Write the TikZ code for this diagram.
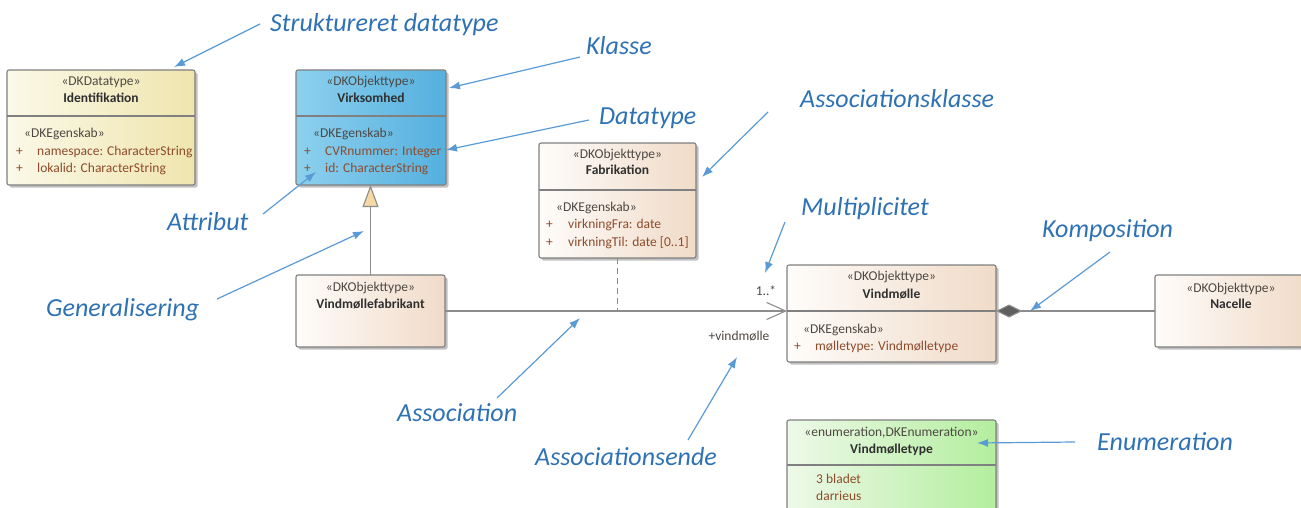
\documentclass[tikz,border=0pt]{standalone}
\usepackage{fontspec}
\setmainfont{Carlito}
\usetikzlibrary{arrows.meta,shadows,calc}

\definecolor{boxline}{HTML}{808080}
\definecolor{connline}{HTML}{8C8C8C}
\definecolor{stereo}{HTML}{4E4843}
\definecolor{namecol}{HTML}{2F2F2F}
\definecolor{attrcol}{HTML}{8E4B2C}
\definecolor{noteblue}{HTML}{2F72B4}
\definecolor{arrowblue}{HTML}{5B9BD5}
\definecolor{yelL}{HTML}{FBF9E8}
\definecolor{yelR}{HTML}{EFE5AE}
\definecolor{bluL}{HTML}{8DD0EE}
\definecolor{bluR}{HTML}{54B0DE}
\definecolor{tanL}{HTML}{FEFCFA}
\definecolor{tanR}{HTML}{F0DBC8}
\definecolor{grnL}{HTML}{EEF9E9}
\definecolor{grnR}{HTML}{B3EE9E}
\definecolor{genfill}{HTML}{F6D8A5}
\definecolor{diamondgray}{HTML}{5F5F5F}

\begin{document}
\begin{tikzpicture}[x=1pt,y=-1pt,
  cls/.style={draw=boxline, line width=1.1pt, rounded corners=2pt,
    anchor=north west, inner sep=0pt, outer sep=0pt,
    drop shadow={shadow xshift=2.5pt,shadow yshift=-2.5pt,opacity=0.35,fill=black!70}},
  yelbox/.style={cls, left color=yelL, right color=yelR},
  blubox/.style={cls, left color=bluL, right color=bluR},
  tanbox/.style={cls, left color=tanL, right color=tanR},
  grnbox/.style={cls, left color=grnL, right color=grnR},
  divider/.style={draw=boxline, line width=1.1pt},
  txt/.style={inner sep=0pt, font=\fontsize{13.5}{16}\selectfont},
  stereotxt/.style={txt, anchor=base, text=stereo},
  nametxt/.style={txt, anchor=base, text=namecol, font=\fontsize{13.5}{16}\selectfont\bfseries},
  attrtxt/.style={txt, anchor=base west, text=attrcol},
  plus/.style={txt, anchor=base west, text=attrcol},
  roletxt/.style={txt, anchor=base, text=stereo},
  conn/.style={draw=connline, line width=1.1pt},
  note/.style={inner sep=0pt, anchor=base west, text=noteblue,
    font=\fontsize{26}{30}\selectfont\itshape},
  pointer/.style={draw=arrowblue, line width=1.2pt, -{Latex[length=11pt,width=8pt]}}
]
\useasboundingbox (0,0) rectangle (1301,508);
\clip (0,0) rectangle (1301,508);
\fill[white] (0,0) rectangle (1301,508);

% ---------- class boxes ----------
\node[yelbox, minimum width=188pt, minimum height=115pt] (ident) at (7,70) {};
\node[blubox, minimum width=150pt, minimum height=115pt] (virk) at (296,70) {};
\node[tanbox, minimum width=157pt, minimum height=115pt] (fab) at (539,143) {};
\node[tanbox, minimum width=149pt, minimum height=72pt] (vmf) at (296,275) {};
\node[tanbox, minimum width=209pt, minimum height=97pt] (vm) at (787,265) {};
\node[tanbox, minimum width=152pt, minimum height=72pt] (nac) at (1155,275) {};
\node[grnbox, minimum width=209pt, minimum height=110pt] (vmt) at (787,420) {};

% compartment dividers
\draw[divider] (ident.west |- 0,116) -- (ident.east |- 0,116);
\draw[divider] (virk.west |- 0,116) -- (virk.east |- 0,116);
\draw[divider] (fab.west |- 0,190) -- (fab.east |- 0,190);
\draw[divider] (vm.west |- 0,311) -- (vm.east |- 0,311);
\draw[divider] (vmt.west |- 0,465) -- (vmt.east |- 0,465);

% ---------- box texts ----------
% Identifikation
\node[stereotxt] (identS) at (101,86) {«DKDatatype»};
\node[nametxt] (identN) at (101,103) {Identifikation};
\node[stereotxt, anchor=base west] (identG) at (24,138) {«DKEgenskab»};
\node[plus] (identP1) at (16,155) {+};
\node[attrtxt] (identA1) at (37,155) {namespace: CharacterString};
\node[plus] (identP2) at (16,172) {+};
\node[attrtxt] (identA2) at (37,172) {lokalid: CharacterString};

% Virksomhed
\node[stereotxt] (virkS) at (371,86) {«DKObjekttype»};
\node[nametxt] (virkN) at (371,103) {Virksomhed};
\node[stereotxt, anchor=base west] (virkG) at (313,138) {«DKEgenskab»};
\node[plus] (virkP1) at (304,155) {+};
\node[attrtxt] (virkA1) at (325,155) {CVRnummer: Integer};
\node[plus] (virkP2) at (304,172) {+};
\node[attrtxt] (virkA2) at (325,172) {id: CharacterString};

% Fabrikation
\node[stereotxt] (fabS) at (617.5,158) {«DKObjekttype»};
\node[nametxt] (fabN) at (617.5,175) {Fabrikation};
\node[stereotxt, anchor=base west] (fabG) at (556,211) {«DKEgenskab»};
\node[plus] (fabP1) at (546,228) {+};
\node[attrtxt] (fabA1) at (568,228) {virkningFra: date};
\node[plus] (fabP2) at (546,246) {+};
\node[attrtxt] (fabA2) at (568,246) {virkningTil: date [0..1]};

% Vindmøllefabrikant
\node[stereotxt] (vmfS) at (370.5,291) {«DKObjekttype»};
\node[nametxt] (vmfN) at (370.5,308) {Vindmøllefabrikant};

% Vindmølle
\node[stereotxt] (vmS) at (891.5,280) {«DKObjekttype»};
\node[nametxt] (vmN) at (891.5,298) {Vindmølle};
\node[stereotxt, anchor=base west] (vmG) at (803,333) {«DKEgenskab»};
\node[plus] (vmP1) at (794,350) {+};
\node[attrtxt] (vmA1) at (815,350) {mølletype: Vindmølletype};

% Nacelle
\node[stereotxt] (nacS) at (1231,292) {«DKObjekttype»};
\node[nametxt] (nacN) at (1231,308) {Nacelle};

% Vindmølletype
\node[stereotxt] (vmtS) at (891.5,436) {«enumeration,DKEnumeration»};
\node[nametxt] (vmtN) at (891.5,453) {Vindmølletype};
\node[attrtxt] (vmtL1) at (816,483) {3 bladet};
\node[attrtxt] (vmtL2) at (816,500) {darrieus};

% ---------- relations ----------
% generalisation Vindmøllefabrikant -> Virksomhed
\draw[conn, -{Triangle[length=22pt,width=16pt,fill=genfill]}]
  (vmf.north) -- (vmf.north |- virk.south);
% association Vindmøllefabrikant -> Vindmølle
\draw[conn, -{Straight Barb[length=19pt,width=17pt]}]
  (vmf.east) -- (vmf.east -| vm.west);
\coordinate (assocmid) at (fab.south |- vmf.east);
% association class link
\draw[conn, dashed, dash pattern=on 6pt off 4pt] (fab.south) -- (assocmid);
% composition Nacelle -> Vindmølle
\draw[conn, -{Diamond[length=26pt,width=13pt,fill=diamondgray]}]
  (nac.west) -- (nac.west -| vm.east);

% association end labels
\node[roletxt] (mult) at (766,295) {1..*};
\node[roletxt] (role) at (739,340) {+vindmølle};

% ---------- explanatory notes ----------
\node[note] (nStruk) at (270,32) {Struktureret datatype};
\node[note] (nKlasse) at (586,55) {Klasse};
\node[note] (nData) at (599,125) {Datatype};
\node[note] (nAsk) at (800,108) {Associationsklasse};
\node[note] (nMult) at (801,215) {Multiplicitet};
\node[note] (nKomp) at (1042,237) {Komposition};
\node[note] (nAttr) at (167,230) {Attribut};
\node[note] (nGen) at (46,316) {Generalisering};
\node[note] (nAssoc) at (397,421) {Association};
\node[note] (nEnde) at (535,465) {Associationsende};
\node[note] (nEnum) at (1097,450) {Enumeration};

% pointer start and end points
\coordinate (sStruk) at (260,24);   \coordinate (tStruk) at (174,67);
\coordinate (sKlasse) at (580,57);  \coordinate (tKlasse) at (449,88);
\coordinate (sData) at (589,120);   \coordinate (tData) at (446,150);
\coordinate (sAsk) at (768,112);    \coordinate (tAsk) at (702,177);
\coordinate (sMult) at (785,222);   \coordinate (tMult) at (765,273);
\coordinate (sKomp) at (1110,252);  \coordinate (tKomp) at (1030,311);
\coordinate (sAttr) at (263,214);   \coordinate (tAttr) at (316,172);
\coordinate (sGen) at (217,299);    \coordinate (tGen) at (364,231);
\coordinate (sAssoc) at (497,398);  \coordinate (tAssoc) at (580,318);
\coordinate (sEnde) at (688,440);   \coordinate (tEnde) at (737,357);
\coordinate (sEnum) at (1075,442);  \coordinate (tEnum) at (977,443);

\foreach \n in {Struk,Klasse,Data,Ask,Mult,Komp,Attr,Gen,Assoc,Ende,Enum}
  \draw[pointer] (s\n) -- (t\n);
\end{tikzpicture}
\end{document}
